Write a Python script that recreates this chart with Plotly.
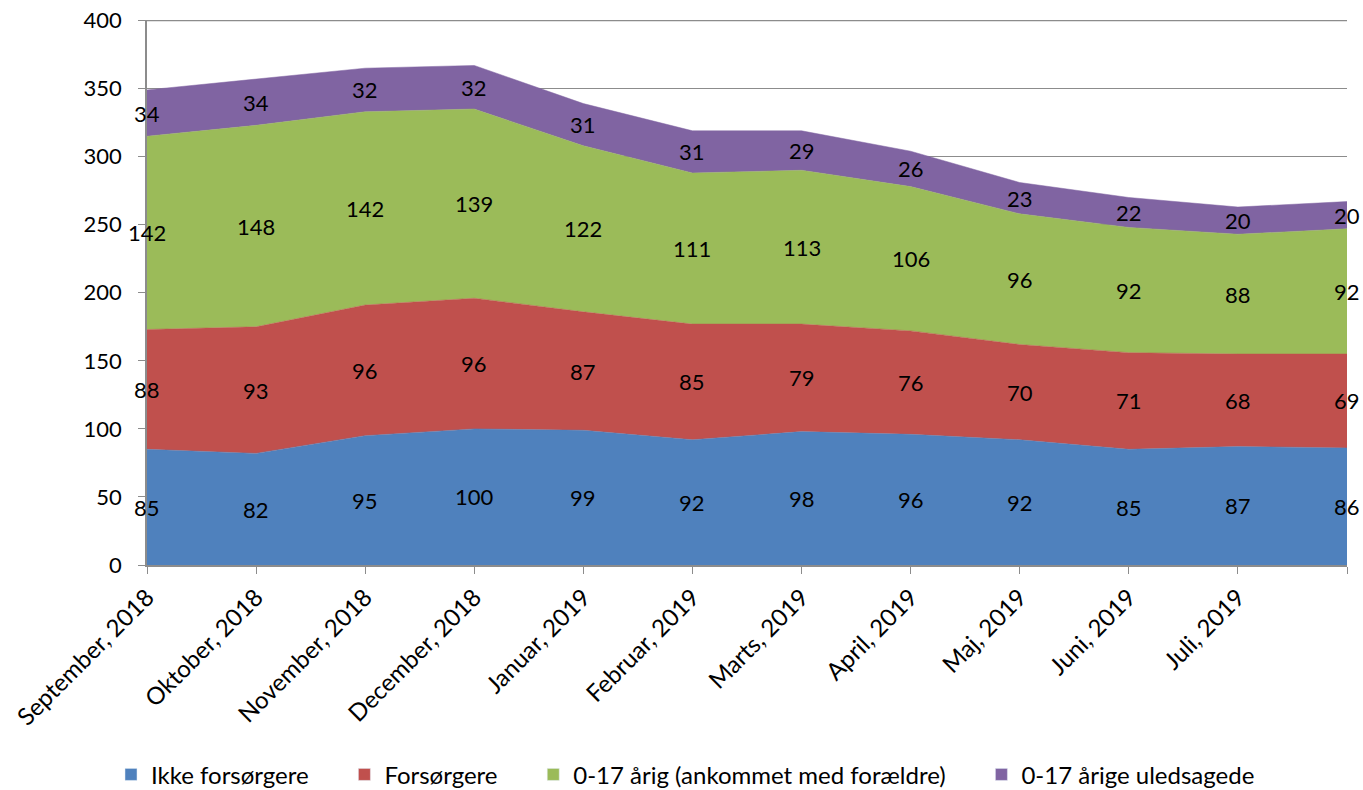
import plotly.graph_objects as go

months = ["September, 2018", "Oktober, 2018", "November, 2018", "December, 2018",
          "Januar, 2019", "Februar, 2019", "Marts, 2019", "April, 2019",
          "Maj, 2019", "Juni, 2019", "Juli, 2019", ""]
ikke = [85, 82, 95, 100, 99, 92, 98, 96, 92, 85, 87, 86]
forsorgere = [88, 93, 96, 96, 87, 85, 79, 76, 70, 71, 68, 69]
aarig = [142, 148, 142, 139, 122, 111, 113, 106, 96, 92, 88, 92]
uledsagede = [34, 34, 32, 32, 31, 31, 29, 26, 23, 22, 20, 20]
y_ticks = [0, 50, 100, 150, 200, 250, 300, 350, 400]

names = ["Ikke forsørgere", "Forsørgere", "0-17 årig (ankommet med forældre)", "0-17 årige uledsagede"]
colors = ["#4F81BD", "#C0504D", "#9BBB59", "#8064A2"]
series = [ikke, forsorgere, aarig, uledsagede]

FONT = "Lato"
GRID = "#8C8C8C"
x = list(range(len(months)))
PAD = "\u00a0" * 5

fig = go.Figure()
base = [0] * len(x)
annotations = []
for name, col, vals in zip(names, colors, series):
    fig.add_trace(go.Scatter(
        x=x, y=vals, name=name, stackgroup="one", mode="lines",
        line=dict(width=0.5, color=col), fillcolor=col, showlegend=False,
        hoverinfo="skip"))
    for i, v in enumerate(vals):
        annotations.append(dict(
            x=x[i], y=base[i] + v / 2, text=str(v), showarrow=False,
            xref="x", yref="y", font=dict(family=FONT, size=22, color="#000000")))
    base = [b + v for b, v in zip(base, vals)]

# legend entries with square keys
for name, col in zip(names, colors):
    fig.add_trace(go.Bar(x=[None], y=[None], name=name + PAD, marker=dict(color=col),
                         showlegend=True))

fig.update_layout(
    width=1363, height=790,
    margin=dict(l=147, r=16, t=20, b=225, autoexpand=False),
    paper_bgcolor="white", plot_bgcolor="white",
    font=dict(family=FONT, size=22, color="#000000"),
    showlegend=True,
    legend=dict(orientation="h", x=-0.03, xanchor="left", y=-0.385, yanchor="middle",
                font=dict(family=FONT, size=24), itemwidth=30, traceorder="normal"),
    annotations=annotations,
    shapes=[dict(type="line", xref="paper", yref="y", x0=0, x1=1,
                 y0=y_ticks[-1], y1=y_ticks[-1], line=dict(color=GRID, width=1.5),
                 layer="below")],
)
fig.update_xaxes(
    range=[0, 11], tickmode="array", tickvals=x, ticktext=months,
    tickangle=-45, ticks="outside", ticklen=7, tickcolor=GRID,
    showline=True, linecolor=GRID, linewidth=1.5, showgrid=False, zeroline=False,
    automargin=False, tickfont=dict(family=FONT, size=24))
fig.update_yaxes(
    range=[0, 400.4], tickvals=y_ticks,
    ticks="outside", ticklen=7, tickcolor=GRID, ticklabelstandoff=12,
    showline=True, linecolor=GRID, linewidth=1.5, showgrid=True,
    gridcolor=GRID, gridwidth=1.2, zeroline=False,
    automargin=False, tickfont=dict(family=FONT, size=22))

fig.write_html("out.html", config={"displayModeBar": False},
               post_script="document.body.style.margin='0';document.body.style.overflow='hidden';")
